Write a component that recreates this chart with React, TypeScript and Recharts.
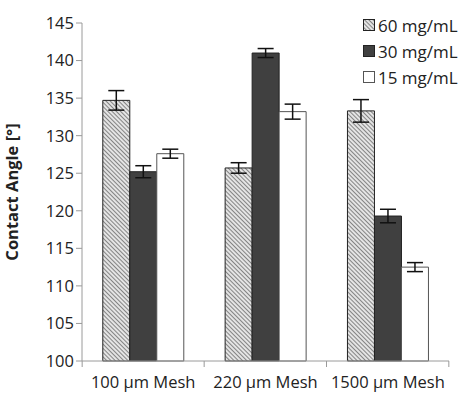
import {
  Bar,
  BarChart,
  ErrorBar,
  Legend,
  XAxis,
  YAxis,
} from "recharts";

const meshes = ["100 \u00b5m Mesh", "220 \u00b5m Mesh", "1500 \u00b5m Mesh"];
const angle60 = [134.7, 125.7, 133.3];
const err60 = [1.3, 0.7, 1.5];
const angle30 = [125.2, 141.0, 119.3];
const err30 = [0.8, 0.6, 0.9];
const angle15 = [127.6, 133.2, 112.5];
const err15 = [0.6, 1.0, 0.6];
const yTicks = [100, 105, 110, 115, 120, 125, 130, 135, 140, 145];

const data = meshes.map((mesh, i) => ({
  mesh,
  c60: angle60[i],
  e60: err60[i],
  c30: angle30[i],
  e30: err30[i],
  c15: angle15[i],
  e15: err15[i],
}));

const FONT = "'Open Sans', Lato, sans-serif";
const AXIS = "#9a9a9a";
const TEXT = "#222";

const legendItems = [
  { label: "60 mg/mL", fill: "url(#hatch)", stroke: "#222" },
  { label: "30 mg/mL", fill: "#404040", stroke: "#222" },
  { label: "15 mg/mL", fill: "#fff", stroke: "#555" },
];

function LegendBox() {
  return (
    <div style={{ fontFamily: FONT, fontSize: 17, color: TEXT }}>
      {legendItems.map((it) => (
        <div
          key={it.label}
          style={{ display: "flex", alignItems: "center", height: 26 }}
        >
          <svg width={12} height={12} style={{ marginRight: 3 }}>
            <rect x={0.5} y={0.5} width={11} height={11} fill={it.fill} stroke={it.stroke} />
          </svg>
          {it.label}
        </div>
      ))}
    </div>
  );
}

// ticks sit on category boundaries, not centres
function BoundaryTick(props: any) {
  const { x, y, payload, index } = props;
  const half = 61;
  return (
    <g>
      {index === 0 && (
        <line x1={x - half} y1={y - 8} x2={x - half} y2={y - 2} stroke={AXIS} />
      )}
      <line x1={x + half} y1={y - 8} x2={x + half} y2={y - 2} stroke={AXIS} />
      <text
        x={x}
        y={y + 19}
        textAnchor="middle"
        fill={TEXT}
        fontSize={16.5}
        fontFamily={FONT}
      >
        {payload.value}
      </text>
    </g>
  );
}

export default function App() {
  return (
    <div style={{ position: "absolute", left: 0, top: 0, background: "#fff" }}>
      <BarChart
        width={464}
        height={394}
        data={data}
        margin={{ top: 23, right: 15, left: 0, bottom: 0 }}
        barCategoryGap="17%"
        barGap={0}
      >
        <defs>
          <pattern
            id="hatch"
            width={3}
            height={3}
            patternUnits="userSpaceOnUse"
            patternTransform="rotate(-45)"
          >
            <rect width={3} height={3} fill="#e4e4e4" />
            <line x1={0} y1={0} x2={0} y2={3} stroke="#505050" strokeWidth={1.3} />
          </pattern>
        </defs>
        <XAxis
          dataKey="mesh"
          height={33}
          stroke={AXIS}
          tickLine={false}
          interval={0}
          tick={<BoundaryTick />}
        />
        <YAxis
          domain={[100, 145]}
          ticks={yTicks}
          width={82}
          stroke={AXIS}
          tickSize={6}
          tick={{ fill: TEXT, fontSize: 16.5, fontFamily: FONT }}
          label={{
            value: "Contact Angle [\u00b0]",
            angle: -90,
            position: "insideLeft",
            offset: 12,
            style: {
              textAnchor: "middle",
              fontWeight: "bold",
              fontSize: 16.5,
              fontFamily: FONT,
              fill: TEXT,
            },
          }}
        />
        <Legend
          layout="vertical"
          verticalAlign="middle"
          align="center"
          content={<LegendBox />}
          wrapperStyle={{ top: 12, left: 363, width: 100 }}
        />
        <Bar dataKey="c60" fill="url(#hatch)" stroke="#222" strokeWidth={1} isAnimationActive={false}>
          <ErrorBar dataKey="e60" width={8} stroke="#111" strokeWidth={1.5} />
        </Bar>
        <Bar dataKey="c30" fill="#404040" stroke="#222" strokeWidth={1} isAnimationActive={false}>
          <ErrorBar dataKey="e30" width={8} stroke="#111" strokeWidth={1.5} />
        </Bar>
        <Bar dataKey="c15" fill="#fff" stroke="#555" strokeWidth={1} isAnimationActive={false}>
          <ErrorBar dataKey="e15" width={8} stroke="#111" strokeWidth={1.5} />
        </Bar>
      </BarChart>
    </div>
  );
}
